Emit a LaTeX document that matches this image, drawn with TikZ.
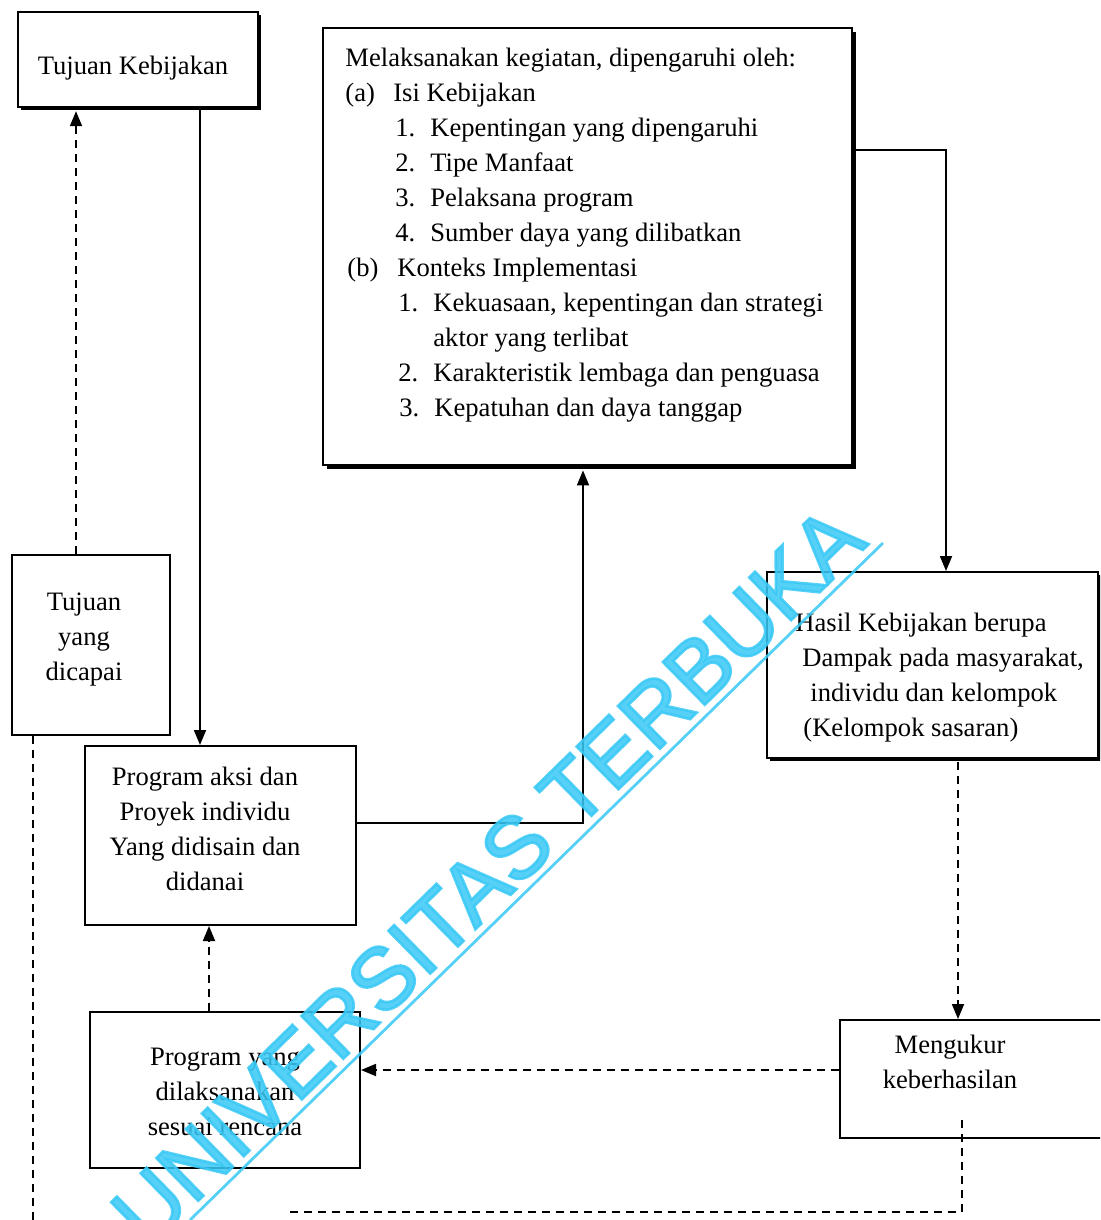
\documentclass[tikz,border=0pt]{standalone}
\usepackage{fontspec}
\setmainfont{Liberation Serif}
\newfontfamily\wmfont[FakeBold=3]{Liberation Sans}
\usetikzlibrary{arrows.meta,shadows}
\definecolor{wmcyan}{RGB}{56,200,245}
\begin{document}
\begin{tikzpicture}[x=0.5pt,y=-0.5pt,
  box/.style={draw=black,line width=1pt,fill=white,inner sep=0pt},
  sbox/.style={box,drop shadow={shadow xshift=1.6pt,shadow yshift=-1.6pt,fill=black,opacity=1}},
  bbox/.style={box,drop shadow={shadow xshift=2.2pt,shadow yshift=-2.2pt,fill=black,opacity=1}},
  txt/.style={inner sep=0pt,font=\fontsize{13.3}{17.5}\selectfont},
  arr/.style={line width=0.9pt,-{Triangle[length=7.5pt,width=6pt]}},
  darr/.style={arr,dash pattern=on 4pt off 3pt},
  dline/.style={line width=0.9pt,dash pattern=on 4pt off 3pt},
  wm/.style={inner sep=0pt,text=wmcyan,opacity=0.85,font=\wmfont\fontsize{43.5}{50}\selectfont},
  wmline/.style={draw=wmcyan,opacity=0.85,line width=1.4pt}]
\useasboundingbox (0,0) rectangle (1100,1220);
\clip (0,0) rectangle (1100,1220);
% boxes
\node[sbox,minimum width=120pt,minimum height=47.5pt] (tk) at (138,59.5) {};
\node[bbox,minimum width=264.5pt,minimum height=218.5pt] (big) at (587.5,246.5) {};
\node[box,minimum width=79pt,minimum height=90pt] (ty) at (91,645) {};
\node[box,minimum width=135.5pt,minimum height=89.5pt] (pa) at (220.5,835.5) {};
\node[sbox,minimum width=165.5pt,minimum height=93pt] (hk) at (932.5,665) {};
\node[box,minimum width=135pt,minimum height=78pt] (py) at (225,1090) {};
\node[box,minimum width=140pt,minimum height=59pt] (mk) at (980,1079) {};
% texts
\node[txt] (tktxt) at (133,68) {Tujuan Kebijakan};
\node[txt,anchor=north west,align=left] (bigtxt) at (345,48) {Melaksanakan kegiatan, dipengaruhi oleh:\\
\makebox[24pt][l]{(a)}Isi Kebijakan\\
\hspace*{25pt}\makebox[17.5pt][l]{1.}Kepentingan yang dipengaruhi\\
\hspace*{25pt}\makebox[17.5pt][l]{2.}Tipe Manfaat\\
\hspace*{25pt}\makebox[17.5pt][l]{3.}Pelaksana program\\
\hspace*{25pt}\makebox[17.5pt][l]{4.}Sumber daya yang dilibatkan\\
\hspace*{1pt}\makebox[25pt][l]{(b)}Konteks Implementasi\\
\hspace*{26.5pt}\makebox[17.5pt][l]{1.}Kekuasaan, kepentingan dan strategi\\
\hspace*{44pt}aktor yang terlibat\\
\hspace*{26.5pt}\makebox[17.5pt][l]{2.}Karakteristik lembaga dan penguasa\\
\hspace*{27pt}\makebox[17.5pt][l]{3.}Kepatuhan dan daya tanggap};
\node[txt,align=center] (tytxt) at (84,640) {Tujuan\\yang\\dicapai};
\node[txt,align=center] (patxt) at (205,829) {Program aksi dan\\Proyek individu\\Yang didisain dan\\didanai};
\node[txt,anchor=north west,align=left] (hktxt) at (795,613) {Hasil Kebijakan berupa\\
\hspace*{3.5pt}Dampak pada masyarakat,\\
\hspace*{7.5pt}individu dan kelompok\\
\hspace*{4pt}(Kelompok sasaran)};
\node[txt,align=center] (pytxt) at (225,1092) {Program yang\\dilaksanakan\\sesuai rencana};
\node[txt,align=center] (mktxt) at (950,1062) {Mengukur\\keberhasilan};
% helper coordinates
\coordinate (c1) at (76,0);
\coordinate (c2) at (200,0);
\coordinate (c3) at (583,823);
\coordinate (c4) at (946,150);
\coordinate (c5) at (958,0);
\coordinate (c6) at (0,1070);
\coordinate (c7) at (209,0);
\coordinate (c8) at (33,0);
\coordinate (e8) at (33,1230);
\coordinate (m1) at (962,1120);
\coordinate (m2) at (962,1212);
\coordinate (m3) at (290,1212);
% connectors
\draw[darr] (ty.north -| c1) -- ([yshift=-1.6pt]tk.south -| c1);
\draw[arr] (tk.south -| c2) -- (pa.north -| c2);
\draw[arr] (pa.east |- c3) -- (c3) -- ([yshift=-2.2pt]big.south -| c3);
\draw[arr] (big.east |- c4) -- (c4) -- (hk.north -| c4);
\draw[darr] ([yshift=-1.6pt]hk.south -| c5) -- (mk.north -| c5);
\draw[darr] (mk.west |- c6) -- (py.east |- c6);
\draw[darr] (py.north -| c7) -- (pa.south -| c7);
\draw[dline] (ty.south -| c8) -- (e8);
\draw[dline] (m1) -- (m2) -- (m3);
% watermark
\node[wm,rotate=44.4,anchor=base west] (wmark) at (148,1250) {UNIVERSITAS TERBUKA};
\coordinate (w1) at (883,543);
\coordinate (w2) at (190,1220);
\draw[wmline] (w1) -- (w2);
\end{tikzpicture}
\end{document}
